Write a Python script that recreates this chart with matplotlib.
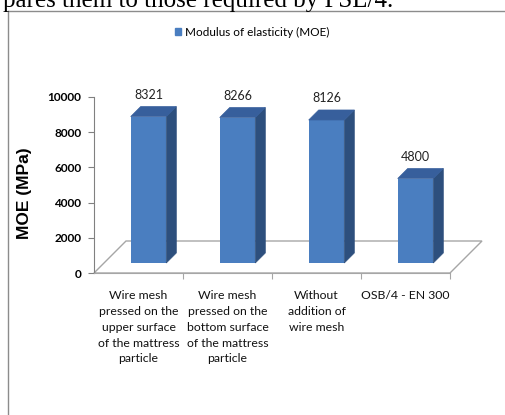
import matplotlib
matplotlib.use("Agg")
import matplotlib.pyplot as plt
from matplotlib.patches import Patch, Polygon
from matplotlib.lines import Line2D
from matplotlib.transforms import ScaledTranslation
from matplotlib import font_manager

# ================= DATA =================

categories = [
    "Wire mesh\npressed on the\nupper surface\nof the mattress\nparticle",
    "Wire mesh\npressed on the\nbottom surface\nof the mattress\nparticle",
    "Without\naddition of\nwire mesh",
    "OSB/4 - EN 300",
]
moe_values = [8321, 8266, 8126, 4800]
y_ticks = [0, 2000, 4000, 6000, 8000, 10000]
series_name = "Modulus of elasticity (MOE)"
page_text = "pares them to those required by PSL/4."

# ================= STYLE =================

names = {f.name for f in font_manager.fontManager.ttflist}
ui_font = "Lato" if "Lato" in names else "DejaVu Sans"

FRONT = "#4a7ec0"
SIDE = "#2d4f7d"
TOP = "#375f9c"
GRID = "#a6a6a6"

W, H, DPI = 505, 415, 100
fig = plt.figure(figsize=(W / DPI, H / DPI), dpi=DPI)

# plot area: front plane of the 3D box
ax = fig.add_axes([94 / W, (H - 273) / H, 356 / W, 176 / H])
ax.set_xlim(-0.5, 3.5)
ax.set_ylim(0, 10000)
ax.patch.set_alpha(0)

for s in ("top", "right"):
    ax.spines[s].set_visible(False)
ax.spines["left"].set_color("#808080")
ax.spines["bottom"].set_color(GRID)

ax.set_yticks(y_ticks)
ax.set_yticklabels([str(t) for t in y_ticks], fontfamily=ui_font,
                   fontweight="bold", fontsize=8.5)
ax.tick_params(axis="y", length=4, width=0.8, color="#808080", pad=5)

x = list(range(len(categories)))
ax.set_xticks([i + 0.5 for i in x])
ax.set_xticklabels([])
ax.set_xticks(x, minor=True)
ax.set_xticklabels(categories, minor=True, fontfamily=ui_font, fontsize=8.8,
                   linespacing=1.55, color="#111111")
ax.tick_params(axis="x", which="major", length=4, width=0.8, color=GRID)
ax.tick_params(axis="x", which="minor", length=0, pad=12)


def depth(px_, py_, d):
    # data point pushed d pixels back along the 45 deg depth axis
    dx, dy = ax.transData.transform((px_, py_))
    return ax.transData.inverted().transform((dx + d, dy + d))


# floor outline
x0, x1 = ax.get_xlim()
floor = [depth(x0, 0, 0), depth(x1, 0, 0), depth(x1, 0, 32), depth(x0, 0, 32)]
ax.add_patch(Polygon(floor, closed=True, fill=False, edgecolor=GRID,
                     linewidth=1.0, zorder=1, clip_on=False))

# bars
bw = 0.4
front_shift = ax.transData + ScaledTranslation(10 / DPI, 10 / DPI, fig.dpi_scale_trans)
ax.bar(x, moe_values, width=bw, color=FRONT, transform=front_shift,
       zorder=3, clip_on=False)

for xi, v in zip(x, moe_values):
    l, r = xi - bw / 2, xi + bw / 2
    side = [depth(r, 0, 10), depth(r, 0, 20), depth(r, v, 20), depth(r, v, 10)]
    top = [depth(l, v, 10), depth(r, v, 10), depth(r, v, 20), depth(l, v, 20)]
    ax.add_patch(Polygon(side, closed=True, facecolor=SIDE, edgecolor=SIDE,
                         linewidth=0.5, zorder=3, clip_on=False))
    ax.add_patch(Polygon(top, closed=True, facecolor=TOP, edgecolor=TOP,
                         linewidth=0.5, zorder=3, clip_on=False))
    ax.annotate(str(v), xy=(xi, v), xytext=(10, 32), textcoords="offset pixels",
                ha="center", va="center", fontfamily=ui_font, fontsize=9,
                color="#222222", annotation_clip=False)

# axis title
fig.text(25 / W, 1 - 193 / H, "MOE (MPa)", rotation=90, ha="center",
         va="center", fontfamily="Liberation Sans", fontweight="bold",
         fontsize=12.5)

# legend
fig.legend(handles=[Patch(facecolor=FRONT, edgecolor=FRONT)],
           labels=[series_name], loc="center",
           bbox_to_anchor=(252 / W, 1 - 32 / H), frameon=False,
           prop={"family": ui_font, "size": 8.5},
           handlelength=0.55, handleheight=0.55, handletextpad=0.3)

# page bits around the chart (screenshot of a document)
fig.text(3 / W, 1 - 7 / H, page_text, ha="left", va="baseline",
         fontfamily="Liberation Serif", fontsize=18)
fig.add_artist(Line2D([8 / W, 1], [1 - 11 / H, 1 - 11 / H], color="#8c8c8c",
                      linewidth=1.0))
fig.add_artist(Line2D([8 / W, 8 / W], [1 - 11 / H, 0], color="#8c8c8c",
                      linewidth=1.0))

fig.savefig("out.png", dpi=DPI)
